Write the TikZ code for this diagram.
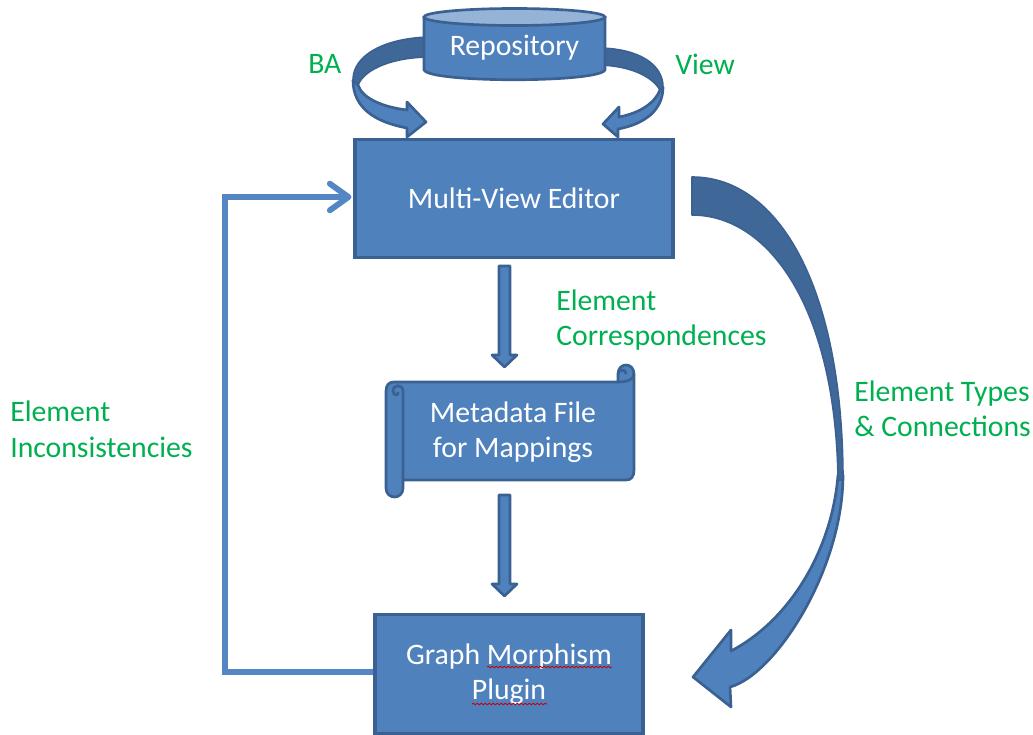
\documentclass[tikz,border=0pt]{standalone}
\usepackage{fontspec}
\setmainfont{Carlito}
\usetikzlibrary{arrows.meta,calc,decorations.pathmorphing}
\definecolor{bfill}{HTML}{4F81BD}
\definecolor{bline}{HTML}{3A6191}
\definecolor{bdark}{HTML}{3F6797}
\definecolor{bpale}{HTML}{95B3D7}
\definecolor{lblue}{HTML}{5586C4}
\definecolor{lgreen}{HTML}{00B050}
\tikzset{
  every node/.style={font=\fontsize{22.3}{26.6}\selectfont},
  boxnode/.style={draw=bline,line width=2.4pt,fill=bfill,text=white,align=center,inner sep=0pt},
  txtnode/.style={text=white,align=center,inner sep=0pt},
  lbl/.style={text=lgreen,align=left,anchor=west,inner sep=0pt},
  shapefill/.style={draw=bline,line width=2pt,fill=bfill,line join=round},
  shapedark/.style={draw=bline,line width=1.2pt,fill=bdark,line join=round},
  squiggle/.style={draw=red!80!black,line width=0.6pt,decorate,decoration={snake,amplitude=0.6pt,segment length=3pt}}
}
\begin{document}
\begin{tikzpicture}[x=0.75pt,y=-0.75pt]
\useasboundingbox (0,0) rectangle (1033,735);
% main boxes
\node[boxnode,minimum width=238.5pt,minimum height=89pt] (editor) at (514,198.5) {\raisebox{1pt}{Multi-View Editor}};
\node[boxnode,minimum width=201pt,minimum height=89pt] (plugin) at (509,674) {Graph Morphism\\Plugin};
% loop connector
\coordinate (turn) at (225,672);
\draw[lblue,line width=4.4pt,-{Straight Barb[length=14pt,width=20pt,line width=4.4pt,round]}] (plugin.west |- turn) -- (turn) |- ($(editor.west)+(-2,-1.5)$);
% repository curved arrows
\path[shapefill] (407,102) -- (426,122) -- (407,137) -- (407,128)
  .. controls (375,122) and (353,108) .. (353,80)
  -- (358,85) .. controls (362,98) and (382,107) .. (407,110) -- cycle;
\path[shapedark] (430,37) .. controls (385,38) and (353,55) .. (353,80)
  -- (358,85) .. controls (365,68) and (395,57) .. (430,57) -- cycle;
\path[shapefill] (619,107) -- (603,124) -- (618,137) -- (618,129)
  .. controls (645,124) and (663,110) .. (663,87)
  -- (660,90) .. controls (655,103) and (640,113) .. (619,117) -- cycle;
\path[shapedark] (600,48) .. controls (640,49) and (663,65) .. (663,87)
  -- (660,90) .. controls (652,76) and (630,66) .. (600,65) -- cycle;
% repository cylinder
\path[shapefill] (424,17) -- (424,70) .. controls (430,83) and (598,83) .. (605,70) -- (605,17) -- cycle;
\path[draw=bline,line width=2pt,fill=bpale] (514.5,17) ellipse [x radius=90.5,y radius=8.5];
\node[txtnode] (repo) at (514.5,48) {Repository};
% big curved arrow
\path[shapefill] (731,630) -- (693,677) -- (731,707) -- (730,687)
  .. controls (775,675) and (843,570) .. (843,475)
  -- (838,475) .. controls (832,550) and (790,620) .. (731,651) -- cycle;
\path[shapedark] (692,177) .. controls (780,177) and (843,290) .. (843,480)
  -- (838,480) .. controls (836,310) and (770,215) .. (692,215) -- cycle;
% metadata scroll
\path[shapefill] (394,382) -- (618,382) -- (618,374) .. controls (618,362) and (634,362) .. (634,374)
  -- (634,470) .. controls (634,477) and (631,480) .. (626,480) -- (403,480)
  -- (403,488) .. controls (403,500) and (386,500) .. (386,488) -- (386,391)
  .. controls (386,385) and (389,382) .. (394,382) -- cycle;
\draw[bline,line width=2pt] (403,480) -- (403,391) .. controls (403,384) and (393,384) .. (393,391) .. controls (393,396) and (399,396) .. (398,392);
\draw[bline,line width=2pt] (618,382) .. controls (626,382) and (634,380) .. (634,374);
\draw[bline,line width=2pt] (618,374) .. controls (618,370) and (626,368) .. (626,374);
\node[txtnode] (meta) at (513,432) {Metadata File\\for Mappings};
% block arrows between boxes
\coordinate (a1) at (504.5,266);
\coordinate (a2) at (504.5,367);
\coordinate (b1) at (504.5,495);
\coordinate (b2) at (504.5,596);
\foreach \s/\e in {a1/a2,b1/b2}{
  \path[shapefill] ($(\s)+(-5.5,0)$) -- ($(\s)+(5.5,0)$) -- ($(\e)+(5.5,-12)$) -- ($(\e)+(12.5,-12)$) -- (\e)
   -- ($(\e)+(-12.5,-12)$) -- ($(\e)+(-5.5,-12)$) -- cycle;
}
% spell-check underlines
\draw[squiggle] (487,667) -- (612,667);
\draw[squiggle] (472,704) -- (547,704);
% labels
\node[lbl] (ba) at (308,64) {BA};
\node[lbl] (view) at (675,64) {View};
\node[lbl] (corr) at (556,320) {Element\\Correspondences};
\node[lbl] (types) at (854,409) {Element Types\\\& Connections};
\node[lbl] (incons) at (10,429.5) {Element\\Inconsistencies};
\end{tikzpicture}
\end{document}
